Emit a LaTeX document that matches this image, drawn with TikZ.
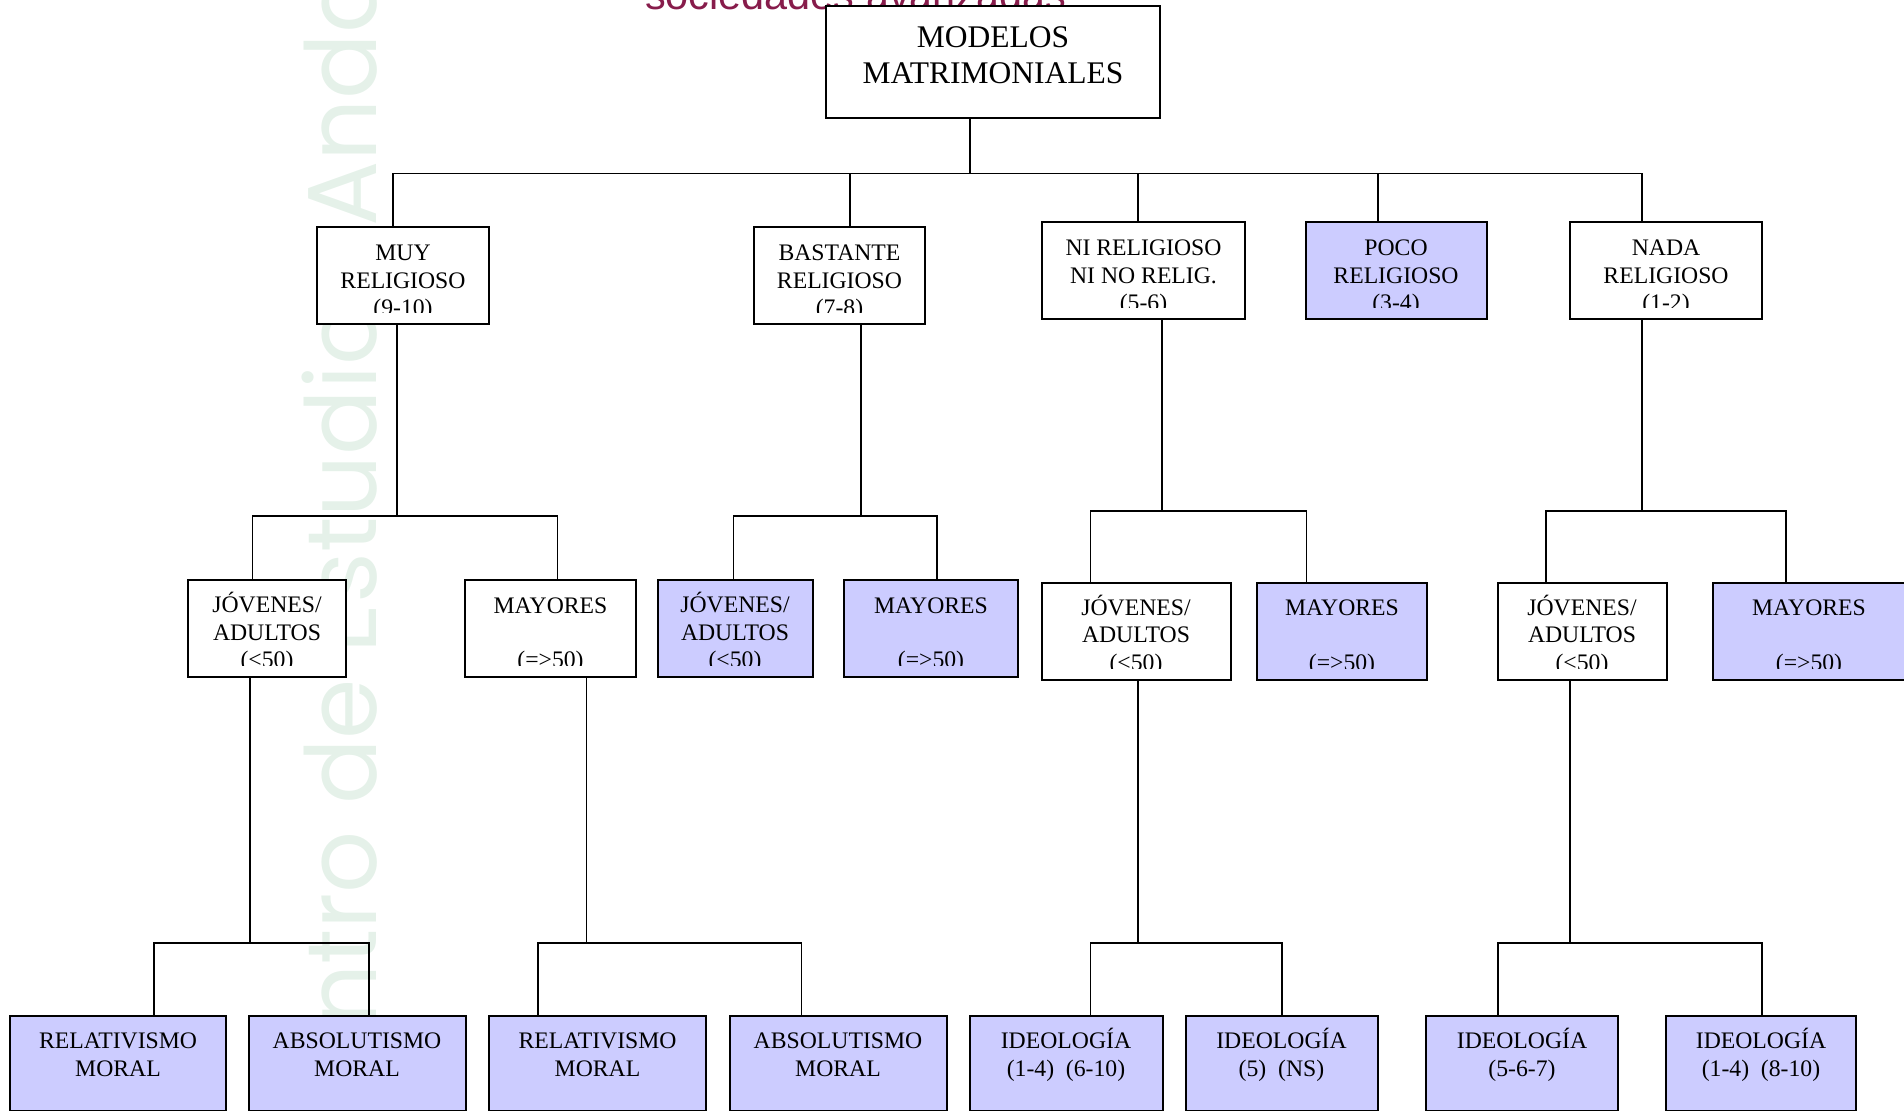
\documentclass[tikz,border=0pt]{standalone}
\usepackage{fontspec}
\setmainfont{Liberation Serif}
\newfontfamily\wmfam{Poppins}
\newfontfamily\headfam{Liberation Sans}
\definecolor{lila}{RGB}{204,204,255}
\definecolor{wmgreen}{RGB}{229,241,233}
\definecolor{headred}{RGB}{135,28,75}
\newcommand{\rootfont}{\fontsize{31.5}{36.3}\selectfont}
\newcommand{\boxfont}{\fontsize{23.7}{27.5}\selectfont}
\newcommand{\leaffont}{\fontsize{23.7}{28.5}\selectfont}
\newcommand{\wmfont}{\wmfam\fontsize{98}{98}\selectfont}
\newlength{\wmfull}
\newlength{\wmhead}

\begin{document}
\settowidth{\wmfull}{\wmfont Centro de Estudios\ }%
\settowidth{\wmhead}{\wmfont Ce}%
\pgfmathsetmacro{\wmk}{800/(\wmfull-\wmhead)}%
\pgfmathsetmacro{\wmy}{227+\wmk*\wmfull}%
\begin{tikzpicture}[
  x=1pt, y=-1pt,
  box/.style={draw, line width=2pt, fill=white, inner sep=0pt, minimum height=97pt},
  lila box/.style={box, fill=lila},
  leaf/.style={lila box, minimum height=95pt},
  lab/.style n args={3}{path picture={
    \clip ([yshift=11.5pt]path picture bounding box.south west) rectangle (path picture bounding box.north east);
    \node[anchor=base, align=center, inner sep=0pt, draw=none, fill=none,
      minimum width=0pt, minimum height=0pt, font=#2]
      at ([yshift=-#1]path picture bounding box.north) {#3};}},
  link/.style={line width=1.7pt}]

\useasboundingbox (0,0) rectangle (1904,1111);
\clip (0,0) rectangle (1904,1111);

% faint background lettering
\node[rotate=90, xscale=\wmk, anchor=base west, inner sep=0pt, font=\wmfont, text=wmgreen]
  (mark) at (376,\wmy) {Centro de Estudios Andaluces};
\node[anchor=base west, inner sep=0pt, text=headred, font=\headfam\fontsize{41.4}{41.4}\selectfont]
  (head) at (645,9.5) {sociedades avanzadas};

% root
\node[box, minimum width=334pt, minimum height=112pt,
  lab={77.3pt}{\rootfont}{MODELOS\\MATRIMONIALES}] (root) at (993,62) {};

% religiosity
\node[box, minimum width=172pt, lab={88.75pt}{\boxfont}{MUY\\RELIGIOSO\\(9-10)}] (muy) at (403,275.5) {};
\node[box, minimum width=171pt, lab={88.75pt}{\boxfont}{BASTANTE\\RELIGIOSO\\(7-8)}] (bast) at (839.5,275.5) {};
\node[box, minimum width=203pt, lab={88.75pt}{\boxfont}{NI RELIGIOSO\\NI NO RELIG.\\(5-6)}] (ni) at (1143.5,270.5) {};
\node[lila box, minimum width=181pt, lab={88.75pt}{\boxfont}{POCO\\RELIGIOSO\\(3-4)}] (poco) at (1396,270.5) {};
\node[box, minimum width=192pt, lab={88.75pt}{\boxfont}{NADA\\RELIGIOSO\\(1-2)}] (nada) at (1666,270.5) {};

% age
\node[box, minimum width=158pt, lab={87.5pt}{\boxfont}{JÓVENES/\\ADULTOS\\(<50)}] (jov1) at (267,628.5) {};
\node[box, minimum width=171pt, lab={87.5pt}{\boxfont}{MAYORES\\[27pt](=>50)}] (may1) at (550.5,628.5) {};
\node[lila box, minimum width=155pt, lab={87.5pt}{\boxfont}{JÓVENES/\\ADULTOS\\(<50)}] (jov2) at (735,628.5) {};
\node[lila box, minimum width=174pt, lab={87.5pt}{\boxfont}{MAYORES\\[27pt](=>50)}] (may2) at (931,628.5) {};
\node[box, minimum width=189pt, lab={87.5pt}{\boxfont}{JÓVENES/\\ADULTOS\\(<50)}] (jov3) at (1136,631) {};
\node[lila box, minimum width=170pt, lab={87.5pt}{\boxfont}{MAYORES\\[27pt](=>50)}] (may3) at (1342,631) {};
\node[box, minimum width=169pt, lab={87.5pt}{\boxfont}{JÓVENES/\\ADULTOS\\(<50)}] (jov4) at (1582,631) {};
\node[lila box, minimum width=192pt, lab={87.5pt}{\boxfont}{MAYORES\\[27pt](=>50)}] (may4) at (1809,631) {};

% moral / ideology
\node[leaf, minimum width=216pt, lab={61.25pt}{\leaffont}{RELATIVISMO\\MORAL}] (rel1) at (118,1063) {};
\node[leaf, minimum width=217pt, lab={61.25pt}{\leaffont}{ABSOLUTISMO\\MORAL}] (abs1) at (357,1063) {};
\node[leaf, minimum width=217pt, lab={61.25pt}{\leaffont}{RELATIVISMO\\MORAL}] (rel2) at (597.5,1063) {};
\node[leaf, minimum width=217pt, lab={61.25pt}{\leaffont}{ABSOLUTISMO\\MORAL}] (abs2) at (838,1063) {};
\node[leaf, minimum width=193pt, lab={61.25pt}{\leaffont}{IDEOLOGÍA\\(1-4)\ \ (6-10)}] (ide1) at (1066,1063) {};
\node[leaf, minimum width=192pt, lab={61.25pt}{\leaffont}{IDEOLOGÍA\\(5)\ \ (NS)}] (ide2) at (1281.5,1063) {};
\node[leaf, minimum width=192pt, lab={61.25pt}{\leaffont}{IDEOLOGÍA\\(5-6-7)}] (ide3) at (1522,1063) {};
\node[leaf, minimum width=190pt, lab={61.25pt}{\leaffont}{IDEOLOGÍA\\(1-4)\ \ (8-10)}] (ide4) at (1761,1063) {};

% connectors
\coordinate (b0) at (970,173.6);
\draw[link] (root.south -| b0) -- (b0);
\foreach \n/\dx in {muy/-10, bast/10.5, ni/-5.5, poco/-18, nada/-24}
  \draw[link] ([xshift=\dx pt]\n.north) |- (b0);

\coordinate (b1) at (397,516);
\draw[link] (muy.south -| b1) -- (b1);
\draw[link] ([xshift=-14.4pt]jov1.north) |- (b1) -| ([xshift=6.9pt]may1.north);
\coordinate (b2) at (861,516);
\draw[link] (bast.south -| b2) -- (b2);
\draw[link] ([xshift=-1.6pt]jov2.north) |- (b2) -| ([xshift=6pt]may2.north);
\coordinate (b3) at (1162,511);
\draw[link] (ni.south -| b3) -- (b3);
\draw[link] ([xshift=-45.6pt]jov3.north) |- (b3) -| ([xshift=-35.4pt]may3.north);
\coordinate (b4) at (1641.7,511);
\draw[link] (nada.south -| b4) -- (b4);
\draw[link] ([xshift=-36.2pt]jov4.north) |- (b4) -| ([xshift=-22.8pt]may4.north);

\coordinate (b5) at (250,943);
\draw[link] (jov1.south -| b5) -- (b5);
\draw[link] ([xshift=36.2pt]rel1.north) |- (b5) -| ([xshift=12pt]abs1.north);
\coordinate (b6) at (586.5,943);
\draw[link] (may1.south -| b6) -- (b6);
\draw[link] ([xshift=-59.5pt]rel2.north) |- (b6) -| ([xshift=-36.6pt]abs2.north);
\coordinate (b7) at (1137.8,943);
\draw[link] (jov3.south -| b7) -- (b7);
\draw[link] ([xshift=24.4pt]ide1.north) |- (b7) -| ([xshift=0.5pt]ide2.north);
\coordinate (b8) at (1570,943);
\draw[link] (jov4.south -| b8) -- (b8);
\draw[link] ([xshift=-24pt]ide3.north) |- (b8) -| ([xshift=1pt]ide4.north);
\end{tikzpicture}
\end{document}
